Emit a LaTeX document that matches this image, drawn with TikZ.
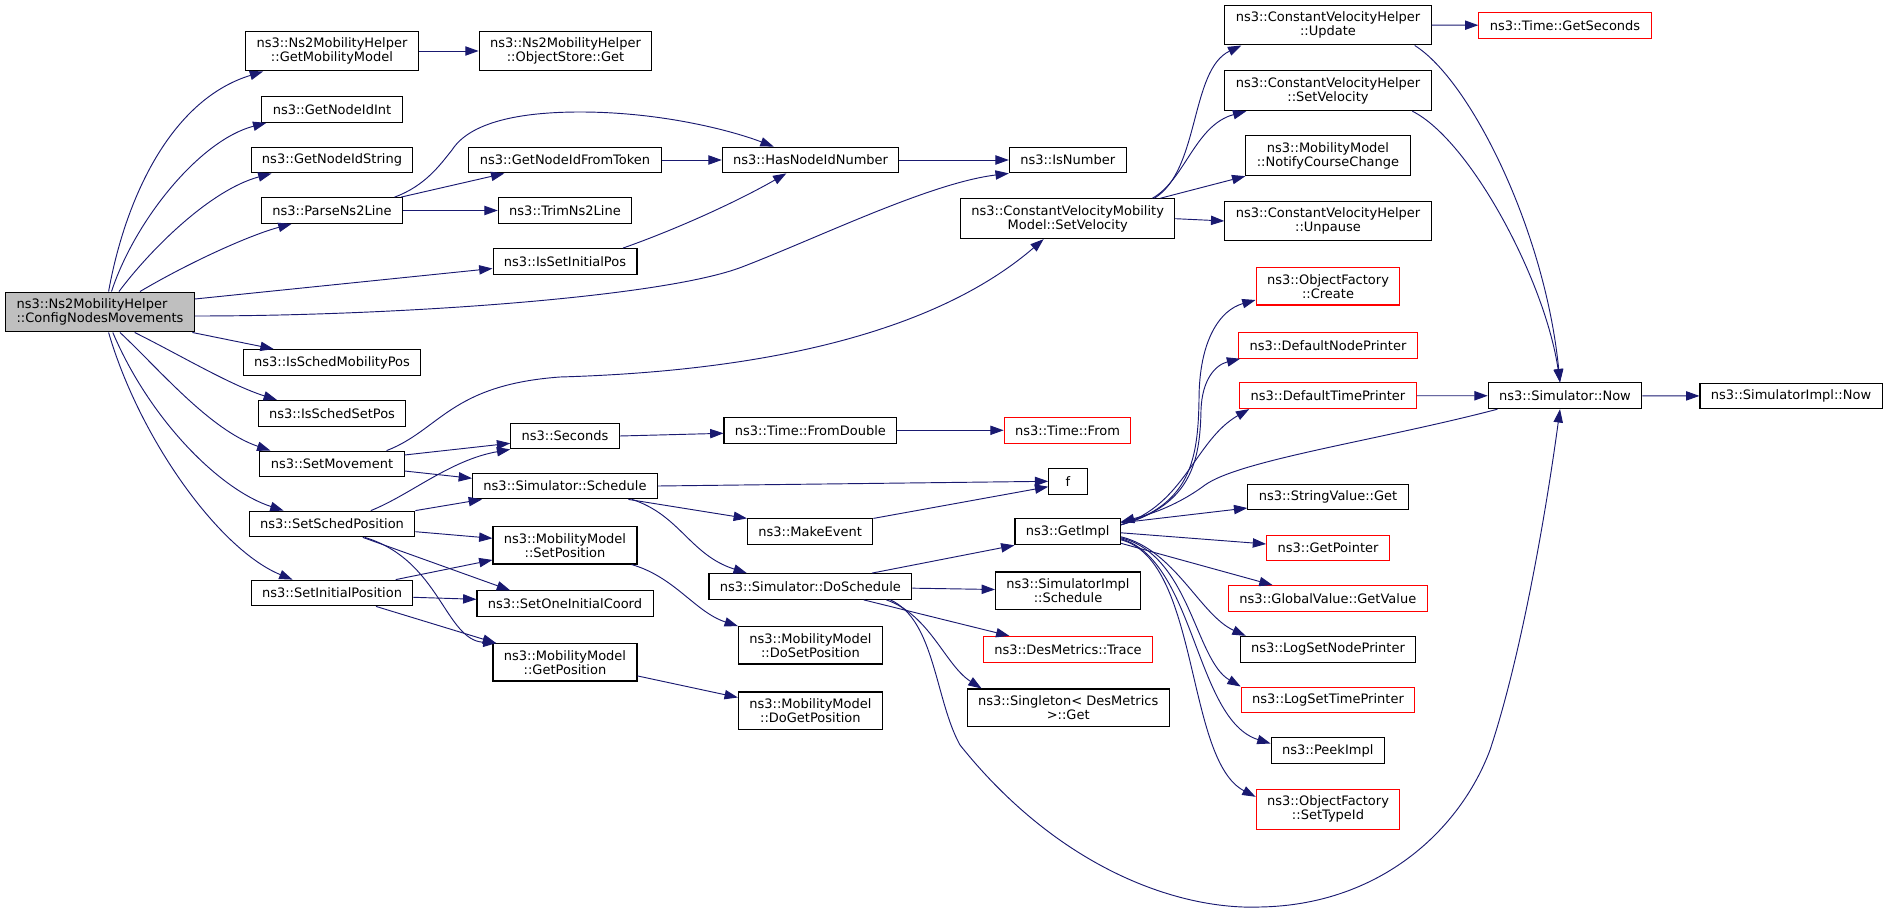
\documentclass[tikz,border=0pt]{standalone}
\usepackage{fontspec}
\setmainfont{DejaVu Sans}
\usetikzlibrary{arrows.meta, calc}
\definecolor{edgeblue}{HTML}{191970}
\definecolor{rootgray}{HTML}{BFBFBF}

\begin{document}
\begin{tikzpicture}[
    x=0.75pt, y=-0.75pt,
    fn/.style={rectangle, draw=black, fill=white, line width=0.8pt, minimum width=28.8pt,
      minimum height=19.3pt, inner xsep=8.2pt, inner ysep=5pt, align=center,
      font=\fontsize{9.75}{10.5}\selectfont},
    fnred/.style={fn, draw=red},
    fnroot/.style={fn, fill=rootgray, align=left},
    arr/.style={-{Triangle[length=10pt, width=7pt]}, draw=edgeblue, line width=0.7pt},
  ]
    \useasboundingbox (0,0) rectangle (1888,913);

    % Caller
    \node[fnroot] (cfg) at (100,312) {ns3::Ns2MobilityHelper\\::ConfigNodesMovements};

    % Second column
    \node[fn] (getmob) at (332,51) {ns3::Ns2MobilityHelper\\::GetMobilityModel};
    \node[fn] (idint) at (332,109.5) {ns3::GetNodeIdInt};
    \node[fn] (idstr) at (332,160) {ns3::GetNodeIdString};
    \node[fn] (parse) at (332,210.5) {ns3::ParseNs2Line};
    \node[fn] (schedmob) at (332,362.5) {ns3::IsSchedMobilityPos};
    \node[fn] (schedset) at (332,413.3) {ns3::IsSchedSetPos};
    \node[fn] (setmove) at (332,464) {ns3::SetMovement};
    \node[fn] (schedpos) at (332,524) {ns3::SetSchedPosition};
    \node[fn] (initpos) at (332,593) {ns3::SetInitialPosition};

    % Third column
    \node[fn] (objget) at (565.5,51) {ns3::Ns2MobilityHelper\\::ObjectStore::Get};
    \node[fn] (fromtok) at (565,160) {ns3::GetNodeIdFromToken};
    \node[fn] (trim) at (565,210.5) {ns3::TrimNs2Line};
    \node[fn] (issetinit) at (565,261.5) {ns3::IsSetInitialPos};
    \node[fn] (seconds) at (565,436) {ns3::Seconds};
    \node[fn] (schedule) at (565,486) {ns3::Simulator::Schedule};
    \node[fn] (setpos) at (565,545.3) {ns3::MobilityModel\\::SetPosition};
    \node[fn] (onecoord) at (565,603.7) {ns3::SetOneInitialCoord};
    \node[fn] (getpos) at (565,662.3) {ns3::MobilityModel\\::GetPosition};

    % Fourth column
    \node[fn] (hasnum) at (810.6,160) {ns3::HasNodeIdNumber};
    \node[fn] (fromdbl) at (810.4,430.3) {ns3::Time::FromDouble};
    \node[fn] (makeev) at (810.2,531.8) {ns3::MakeEvent};
    \node[fn] (dosched) at (810.4,586.5) {ns3::Simulator::DoSchedule};
    \node[fn] (dosetpos) at (810.4,645.3) {ns3::MobilityModel\\::DoSetPosition};
    \node[fn] (dogetpos) at (810.4,710.7) {ns3::MobilityModel\\::DoGetPosition};

    % Fifth column
    \node[fn] (isnum) at (1067.7,160) {ns3::IsNumber};
    \node[fn] (cvmmvel) at (1067.7,218.7) {ns3::ConstantVelocityMobility\\Model::SetVelocity};
    \node[fnred] (timefrom) at (1067.5,430.3) {ns3::Time::From};
    \node[fn] (f) at (1068,481.3) {f};
    \node[fn] (getimpl) at (1067.7,531.8) {ns3::GetImpl};
    \node[fn] (implsched) at (1068,590.7) {ns3::SimulatorImpl\\::Schedule};
    \node[fnred] (trace) at (1068,649.3) {ns3::DesMetrics::Trace};
    \node[fn] (singleton) at (1068.2,707.7) {ns3::Singleton< DesMetrics\\>::Get};

    % Sixth column
    \node[fn] (cvupdate) at (1328,25) {ns3::ConstantVelocityHelper\\::Update};
    \node[fn] (cvsetvel) at (1328,90.7) {ns3::ConstantVelocityHelper\\::SetVelocity};
    \node[fn] (notify) at (1328,155.7) {ns3::MobilityModel\\::NotifyCourseChange};
    \node[fn] (unpause) at (1328,221) {ns3::ConstantVelocityHelper\\::Unpause};
    \node[fnred] (ofcreate) at (1328,286.3) {ns3::ObjectFactory\\::Create};
    \node[fnred] (defnode) at (1328,345.3) {ns3::DefaultNodePrinter};
    \node[fnred] (deftime) at (1328,395.7) {ns3::DefaultTimePrinter};
    \node[fn] (strget) at (1328,497) {ns3::StringValue::Get};
    \node[fnred] (getptr) at (1328,548) {ns3::GetPointer};
    \node[fnred] (globval) at (1327.8,598.5) {ns3::GlobalValue::GetValue};
    \node[fn] (lognode) at (1328,649.3) {ns3::LogSetNodePrinter};
    \node[fnred] (logtime) at (1328,700) {ns3::LogSetTimePrinter};
    \node[fn] (peek) at (1327.7,750.5) {ns3::PeekImpl};
    \node[fnred] (settype) at (1328,809.3) {ns3::ObjectFactory\\::SetTypeId};

    % Last columns
    \node[fnred] (getsec) at (1565,25.3) {ns3::Time::GetSeconds};
    \node[fn] (simnow) at (1565,395.8) {ns3::Simulator::Now};
    \node[fn] (implnow) at (1791,396) {ns3::SimulatorImpl::Now};

    % Calls from the caller
    \draw[arr] ($(cfg.north)+(8.6,0)$) .. controls (125,200) and (170,100) .. ($(getmob.south west)+(18,0)$);
    \draw[arr] ($(cfg.north)+(11.5,0)$) .. controls (135,220) and (200,140) .. ($(idint.south west)+(5,0)$);
    \draw[arr] ($(cfg.north)+(19,0)$) .. controls (150,250) and (210,190) .. ($(idstr.south west)+(21,0)$);
    \draw[arr] ($(cfg.north)+(40,0)$) .. controls (190,262) and (250,235) .. ($(parse.south west)+(30.7,0)$);
    \draw[arr] ($(cfg.east)+(0,-13)$) -- ($(issetinit.west)+(0,7)$);
    \draw[arr] ($(cfg.east)+(0,4)$) .. controls (400,316) and (664,297) .. (742,267)
      .. controls (820,237) and (930,183) .. (isnum.south west);
    \draw[arr] ($(cfg.south east)+(-2.5,0)$) -- ($(schedmob.north west)+(31,0)$);
    \draw[arr] ($(cfg.south)+(34.7,0)$) .. controls (180,355) and (230,385) .. ($(schedset.north west)+(19.4,0)$);
    \draw[arr] ($(cfg.south)+(20,0)$) .. controls (160,370) and (210,430) .. ($(setmove.north west)+(11,0)$);
    \draw[arr] ($(cfg.south)+(12.8,0)$) .. controls (150,420) and (220,490) .. ($(schedpos.north west)+(35,0)$);
    \draw[arr] ($(cfg.south)+(8.6,0)$) .. controls (140,440) and (220,550) .. ($(initpos.north west)+(42,0)$);

    % Second column calls
    \draw[arr] (getmob) -- (objget);
    \draw[arr] ($(parse.north east)+(-2,0)$) -- ($(fromtok.south west)+(36,0)$);
    \draw[arr] (parse) -- (trim);
    \draw[arr] ($(parse.north east)+(-8.5,0)$) .. controls (425,186) and (440,165) .. (452,150)
      .. controls (470,122) and (520,112) .. (580,112)
      .. controls (660,112) and (730,130) .. ($(hasnum.north west)+(52,0)$);
    \draw[arr] (fromtok) -- (hasnum);
    \draw[arr] ($(issetinit.north east)+(-14.6,0)$) .. controls (680,228) and (740,200) .. ($(hasnum.south west)+(64.6,0)$);
    \draw[arr] (hasnum) -- (isnum);
    \draw[arr] ($(setmove.east)+(0,-9)$) -- ($(seconds.west)+(0,7.3)$);
    \draw[arr] ($(setmove.east)+(0,7)$) -- ($(schedule.west)+(0,-7.7)$);
    \draw[arr] ($(setmove.north east)+(-18,0)$) .. controls (440,430) and (450,385) .. (560,377)
      .. controls (800,370) and (950,320) .. ($(cvmmvel.south west)+(83.6,0)$);
    \draw[arr] ($(schedpos.north east)+(-44.6,0)$) .. controls (410,495) and (450,460) .. (seconds.south west);
    \draw[arr] (schedpos.north east) -- ($(schedule.south west)+(10,0)$);
    \draw[arr] ($(schedpos.east)+(0,7.7)$) -- ($(setpos.west)+(0,-7)$);
    \draw[arr] ($(schedpos.south east)+(-52.6,0)$) -- ($(onecoord.north west)+(33.7,0)$);
    \draw[arr] ($(schedpos.south east)+(-50.6,0)$) .. controls (440,560) and (445,640) .. ($(getpos.north west)+(4,0)$);
    \draw[arr] ($(initpos.north east)+(-17.7,0)$) -- ($(setpos.south west)+(0,-4.6)$);
    \draw[arr] ($(initpos.east)+(0,4.3)$) -- ($(onecoord.west)+(0,-4.4)$);
    \draw[arr] ($(initpos.south east)+(-37.5,0)$) -- ($(getpos.north west)+(3.6,0)$);

    % Third column calls
    \draw[arr] (seconds.east) -- ($(fromdbl.west)+(0,3)$);
    \draw[arr] (fromdbl) -- (timefrom);
    \draw[arr] (schedule.east) -- (f.west);
    \draw[arr] ($(schedule.south east)+(-29.6,0)$) -- (makeev.north west);
    \draw[arr] ($(schedule.south east)+(-26,0)$) .. controls (680,515) and (690,555) .. ($(dosched.north west)+(38.4,0)$);
    \draw[arr] (makeev.north east) -- ($(f.west)+(0,5.4)$);
    \draw[arr] ($(setpos.south east)+(-6,0)$) .. controls (675,577) and (695,612) .. (dosetpos.north west);
    \draw[arr] ($(getpos.south east)+(0,-5.6)$) -- ($(dogetpos.north west)+(0,6)$);

    % Fourth column calls
    \draw[arr] ($(dosched.north east)+(-40.4,0)$) -- (getimpl.south west);
    \draw[arr] (dosched) -- (implsched);
    \draw[arr] ($(dosched.south east)+(-48.6,0)$) -- ($(trace.north west)+(26.5,0)$);
    \draw[arr] ($(dosched.south east)+(-26,0)$) .. controls (930,615) and (945,665) .. ($(singleton.north west)+(15,0)$);
    \draw[arr] ($(dosched.south east)+(-22,0)$) .. controls (935,620) and (935,700) .. (960,745)
      .. controls (1060,870) and (1180,910) .. (1260,907)
      .. controls (1380,905) and (1460,830) .. (1490,750)
      .. controls (1520,660) and (1545,520) .. ($(simnow.south)+(-5,0)$);

    % Fifth column calls
    \draw[arr] ($(cvmmvel.north east)+(-21,0)$) .. controls (1200,170) and (1190,70) .. ($(cvupdate.south west)+(17,0)$);
    \draw[arr] ($(cvmmvel.north east)+(-23,0)$) .. controls (1185,180) and (1195,125) .. ($(cvsetvel.south west)+(22,0)$);
    \draw[arr] ($(cvmmvel.north east)+(-15,0)$) -- (notify.south west);
    \draw[arr] (cvmmvel.east) -- (unpause.west);

    % Sixth column calls
    \draw[arr] (cvupdate) -- (getsec);
    \draw[arr] ($(cvupdate.south east)+(-17,0)$) .. controls (1470,80) and (1545,230) .. ($(simnow.north)+(-5,0)$);
    \draw[arr] ($(cvsetvel.south east)+(-19.4,0)$) .. controls (1470,140) and (1545,280) .. ($(simnow.north)+(-5,0)$);
    \draw[arr] (deftime) -- (simnow);
    \draw[arr] (simnow) -- (implnow);
    \draw[arr] ($(simnow.south west)+(9.7,0)$) .. controls (1380,440) and (1240,460) .. (1205,485)
      .. controls (1185,500) and (1160,512) .. ($(getimpl.east)+(0,-10)$);

    % Out of GetImpl
    \draw[arr] ($(getimpl.east)+(0,-7)$) .. controls (1190,505) and (1198,460) .. (1199,400)
      .. controls (1199,340) and (1220,310) .. ($(ofcreate.west)+(0,13.7)$);
    \draw[arr] ($(getimpl.east)+(0,-7)$) .. controls (1192,505) and (1200,460) .. (1201,410)
      .. controls (1202,380) and (1215,365) .. ($(defnode.south west)+(2,0)$);
    \draw[arr] ($(getimpl.east)+(0,-7)$) .. controls (1185,505) and (1195,440) .. ($(deftime.south west)+(10,0)$);
    \draw[arr] ($(getimpl.east)+(0,-9)$) -- ($(strget.west)+(0,11)$);
    \draw[arr] ($(getimpl.east)+(0,1)$) -- ($(getptr.west)+(0,-4)$);
    \draw[arr] ($(getimpl.south east)+(0,-2)$) -- ($(globval.north west)+(44.7,0)$);
    \draw[arr] ($(getimpl.east)+(0,5)$) .. controls (1175,550) and (1200,615) .. ($(lognode.north west)+(6,0)$);
    \draw[arr] ($(getimpl.east)+(0,6)$) .. controls (1190,555) and (1195,660) .. (logtime.north west);
    \draw[arr] ($(getimpl.east)+(0,7)$) .. controls (1195,560) and (1195,720) .. ($(peek.west)+(0,-7)$);
    \draw[arr] ($(getimpl.east)+(0,8)$) .. controls (1200,560) and (1185,760) .. ($(settype.north west)+(0,8)$);
  \end{tikzpicture}
\end{document}
